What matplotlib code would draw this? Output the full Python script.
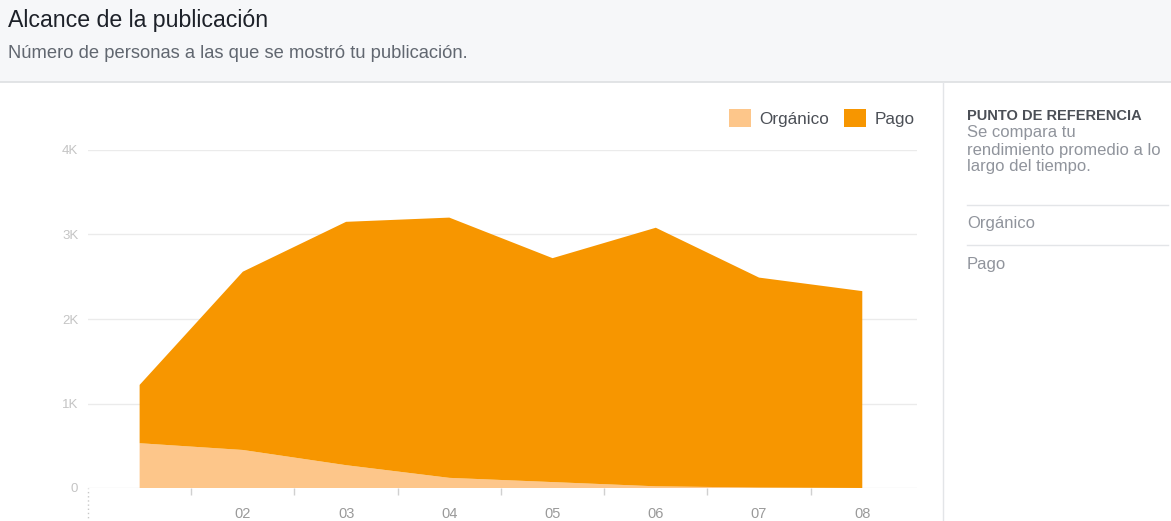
import matplotlib
matplotlib.use("Agg")
import matplotlib.pyplot as plt
from matplotlib.patches import Patch, Rectangle
from matplotlib.lines import Line2D

plt.rcParams["font.family"] = ["Liberation Sans", "DejaVu Sans"]

# data
dias = [1, 2, 3, 4, 5, 6, 7, 8]
etiquetas = ["", "02", "03", "04", "05", "06", "07", "08"]
organico = [530, 450, 270, 120, 70, 20, 5, 0]
total = [1220, 2560, 3150, 3200, 2720, 3080, 2490, 2330]
pago = [t - o for t, o in zip(total, organico)]
yticks = [0, 1000, 2000, 3000, 4000]
ylabels = ["0", "1K", "2K", "3K", "4K"]

C_ORG = "#fdc68a"
C_PAGO = "#f79600"
DARK = "#4b4f56"
GRAY = "#90949c"
LINE = "#e3e5e8"

W, H = 1171, 521
fig = plt.figure(figsize=(W / 100, H / 100), dpi=100)
fig.patch.set_facecolor("white")

# header band
fig.patches.append(Rectangle((0, 1 - 82 / H), 1, 82 / H, transform=fig.transFigure,
                             facecolor="#f6f7f9", edgecolor="none", zorder=0))
fig.add_artist(Line2D([0, 1], [1 - 82 / H] * 2, transform=fig.transFigure, color="#dddfe2", lw=1.2))
fig.text(8 / W, 1 - 20 / H, "Alcance de la publicación", fontsize=16.7, color="#1d2129", va="center")
fig.text(8 / W, 1 - 53 / H, "Número de personas a las que se mostró tu publicación.",
         fontsize=13.2, color="#616770", va="center")

# main chart
ax = fig.add_axes([88 / W, 1 - 488 / H, (917 - 88) / W, (488 - 150) / H])
ax.stackplot(dias, organico, pago, colors=[C_ORG, C_PAGO], lw=0, zorder=2)
ax.set_xlim(0.5, 8.53)
ax.set_ylim(0, 4000)
for s in ax.spines.values():
    s.set_visible(False)
ax.set_yticks(yticks)
ax.set_yticklabels(ylabels)
ax.yaxis.grid(True, color="#ebebeb", lw=1, zorder=0)
ax.tick_params(axis="y", length=0, pad=7, labelsize=9.5, labelcolor="#c4c4c4")
ax.set_xticks(dias)
ax.set_xticklabels(etiquetas)
ax.tick_params(axis="x", length=0, pad=14, labelsize=10.5, labelcolor="#9a9a9a")
ax.set_xticks([d + 0.5 for d in dias[:-1]], minor=True)
ax.tick_params(axis="x", which="minor", length=5, color="#d0d0d0", width=1)
ax.axvline(0.5, ymin=-0.1, ymax=0, color="#c8c8c8", lw=1, ls=(0, (1, 2)), clip_on=False)

handles = [Patch(facecolor=C_ORG, edgecolor="none", label="Orgánico"),
           Patch(facecolor=C_PAGO, edgecolor="none", label="Pago")]
fig.legend(handles=handles, loc="center right", bbox_to_anchor=(921 / W, 1 - 118 / H), ncol=2,
           frameon=False, fontsize=12.3, labelcolor=DARK, handlelength=1.25, handleheight=1.25,
           handletextpad=0.5, columnspacing=0.9, borderaxespad=0)

# right panel
fig.add_artist(Line2D([943 / W] * 2, [0, 1 - 82 / H], transform=fig.transFigure, color=LINE, lw=1))
x0 = 967 / W
fig.text(x0, 1 - 116 / H, "PUNTO DE REFERENCIA", fontsize=10.5, color=DARK, fontweight="bold", va="center")
for y, t in [(133, "Se compara tu"), (150, "rendimiento promedio a lo"), (167, "largo del tiempo.")]:
    fig.text(x0, 1 - y / H, t, fontsize=12, color=GRAY, va="center")
fig.add_artist(Line2D([x0, 1168 / W], [1 - 205 / H] * 2, transform=fig.transFigure, color=LINE, lw=1))
fig.text(x0, 1 - 224 / H, "Orgánico", fontsize=12, color=GRAY, va="center")
fig.add_artist(Line2D([x0, 1168 / W], [1 - 245 / H] * 2, transform=fig.transFigure, color=LINE, lw=1))
fig.text(x0, 1 - 264 / H, "Pago", fontsize=12, color=GRAY, va="center")

fig.savefig("out.png", dpi=100, facecolor="white")
